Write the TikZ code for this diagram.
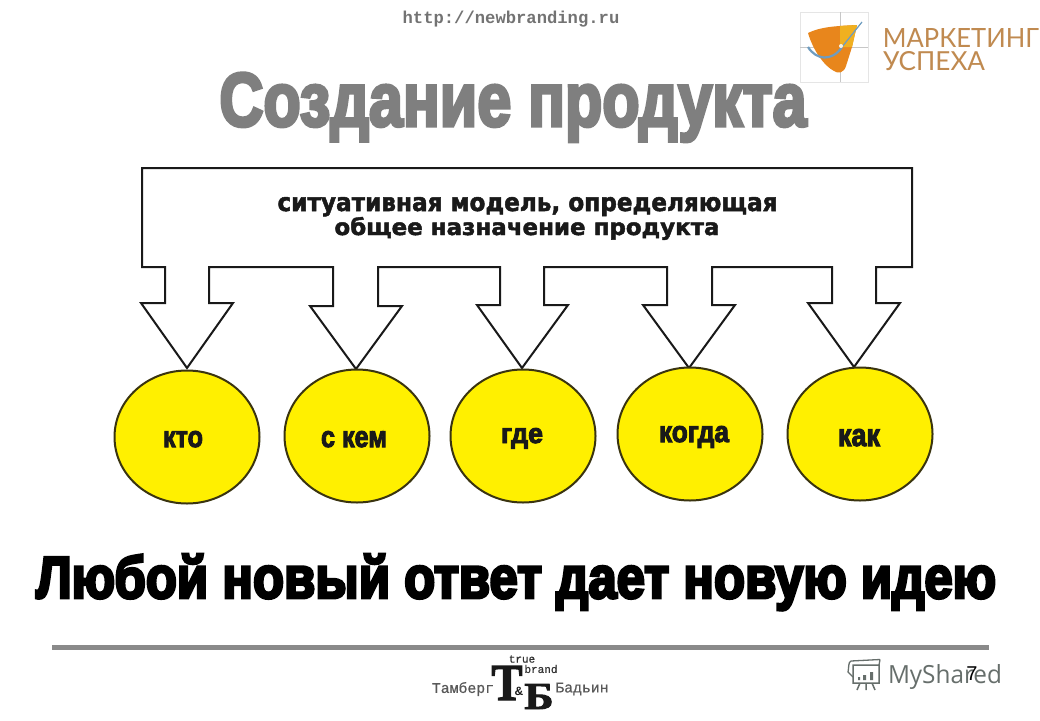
\documentclass[tikz,border=0pt]{standalone}
\usepackage{fontspec}
\usepackage{graphicx}
\usetikzlibrary{shapes.geometric}
\setmainfont{Liberation Sans}
\newfontfamily\heavyf[FakeBold=3.5]{Liberation Sans Bold}
\newfontfamily\titlef[FakeBold=4.5]{Liberation Sans Bold}
\newfontfamily\blackf[FakeBold=5]{Liberation Sans Bold}
\newfontfamily\widef[FakeBold=2]{DejaVu Sans Bold}
\newfontfamily\monof[FakeBold=.6]{Liberation Mono}
\newfontfamily\monob{Liberation Mono Bold}
\newfontfamily\logof{Lato}
\newfontfamily\sharef{Open Sans}
\newfontfamily\serifb[FakeBold=2.5]{Liberation Serif Bold}
\definecolor{titlegray}{HTML}{7F7F7F}
\definecolor{rulegray}{HTML}{8A8A8A}
\definecolor{ballyellow}{HTML}{FFF000}
\definecolor{ballline}{HTML}{3A3410}
\definecolor{logotext}{HTML}{C08A50}
\definecolor{logoorange}{HTML}{E8861C}
\definecolor{logogold}{HTML}{F0B020}
\definecolor{logoblue}{HTML}{6E9CC0}
\definecolor{sharegray}{HTML}{666E6B}
\tikzset{
  ball/.style={draw=ballline,line width=2pt,fill=ballyellow,ellipse,minimum width=145pt,minimum height=133pt,inner sep=0pt},
  balltext/.style={inner sep=0pt,anchor=base,text=black!90},
  plain/.style={inner sep=0pt,outer sep=0pt},
  basetext/.style={inner sep=0pt,outer sep=0pt,anchor=base},
}
\begin{document}
\begin{tikzpicture}[x=1pt,y=-1pt]
\useasboundingbox (0,0) rectangle (1040,720);
\fill[white] (0,0) rectangle (1040,720);

% header
\node[plain,text=black!55] (url) at (511,19) {\fontsize{17.2}{17}\monob http://newbranding.ru};
\node[basetext,text=titlegray] (title) at (513,126) {\resizebox{587pt}{53pt}{\titlef Создание продукта}};

% logo
\draw[black!10,line width=.6pt] (800,12) rectangle (868,82);
\draw[black!22,line width=.8pt] (840,12) -- (840,82) (800,47) -- (868,47);
\fill[logoorange] (808,33) .. controls (820,27) and (835,26) .. (857,25) -- (852,47) -- (846,66) .. controls (844,73) and (838,74) .. (834,71) .. controls (824,66) and (813,50) .. (808,33) -- cycle;
\fill[logogold] (840,26) -- (857,25) -- (852,47) -- (840,47) -- cycle;
\draw[logoblue,line width=2.2pt] (808,47) .. controls (816,60) and (832,62) .. (842,47);
\draw[logoblue,line width=1.2pt] (842,47) -- (862,22);
\fill[white!85!logogold] (841,46) circle (2pt);
\node[basetext,text=logotext] (mk1) at (961,47) {\resizebox{156pt}{19pt}{\logof МАРКЕТИНГ}};
\node[basetext,text=logotext] (mk2) at (934,70) {\resizebox{102pt}{19pt}{\logof УСПЕХА}};

% big outline
\draw[black!90,line width=2pt,line join=miter,fill=white]
 (142,168) -- (912,168) -- (912,267) -- (876,267) -- (876,303) -- (900,303) -- (854,367)
 -- (808,303) -- (832,303) -- (832,267) -- (712,267) -- (712,305) -- (735,305) -- (689,368)
 -- (643,305) -- (667,305) -- (667,267) -- (544,267) -- (544,305) -- (568,305) -- (522,368)
 -- (477,305) -- (500,305) -- (500,267) -- (378,267) -- (378,306) -- (402,306) -- (356,369)
 -- (310,306) -- (333,306) -- (333,267) -- (209,267) -- (209,303) -- (233,303) -- (187,368)
 -- (141,303) -- (165,303) -- (165,267) -- (142,267) -- cycle;
\node[basetext,text=black!90] (situ1) at (527.5,211) {\resizebox{500pt}{14pt}{\widef ситуативная модель, определяющая}};
\node[basetext,text=black!90] (situ2) at (527,235) {\resizebox{385pt}{18pt}{\widef общее назначение продукта}};

% balls
\node[ball] (b1) at (187,437) {};
\node[ball] (b2) at (357,436) {};
\node[ball] (b3) at (523,436) {};
\node[ball] (b4) at (690,434) {};
\node[ball] (b5) at (860,434) {};
\node[balltext] (t1) at (183,447) {\resizebox{40pt}{16pt}{\heavyf кто}};
\node[balltext] (t2) at (354,447) {\resizebox{66pt}{16pt}{\heavyf с кем}};
\node[balltext] (t3) at (522,443) {\resizebox{42pt}{15pt}{\heavyf где}};
\node[balltext] (t4) at (694,442) {\resizebox{70pt}{16pt}{\heavyf когда}};
\node[balltext] (t5) at (859,446) {\resizebox{42pt}{17pt}{\heavyf как}};

% main line
\node[basetext,text=black] (claim) at (516,598) {\resizebox{960pt}{44pt}{\blackf Любой новый ответ дает новую идею}};

% footer
\draw[rulegray,line width=5pt] (52,647.5) -- (989,647.5);
\node[plain,text=black!65] (tam) at (463,689) {\fontsize{14.8}{15}\monof Тамберг};
\node[plain,text=black!65] (bad) at (582,689) {\fontsize{14.8}{15}\monof Бадьин};
\node[plain,text=black!80] (tru) at (522,659) {\fontsize{11}{11}\monof true};
\node[plain,text=black!80] (bra) at (541,669) {\fontsize{11}{11}\monof brand};
\node[basetext,text=black!90] (bigt) at (507,700) {\resizebox{31pt}{34pt}{\serifb Т}};
\node[basetext,text=black!90] (bigb) at (539,709) {\resizebox{29pt}{25pt}{\serifb Б}};
\node[plain,text=black!90] (amp) at (519,691) {\fontsize{12}{12}\selectfont\bfseries\&};

% myshared icon
\draw[sharegray,line width=1.3pt] (851,661) -- (880,659.5) (880,659.5) -- (879,665) (851,661) .. controls (848,662) and (849,668) .. (848,672) -- (853,677);
\draw[sharegray,line width=1.5pt] (853,665) rectangle (879,683) (860,683) -- (857,690) (866,683) -- (866,690) (872,683) -- (875,690);
\fill[sharegray] (858,677) rectangle (860,680) (863,675) rectangle (866,680) (870,672) rectangle (873,680);
\node[basetext,text=sharegray] (share) at (945,683) {\resizebox{114pt}{19pt}{\sharef MyShared}};
\node[basetext,text=black] (num) at (972,680) {\fontsize{20}{20}\selectfont 7};
\end{tikzpicture}
\end{document}
